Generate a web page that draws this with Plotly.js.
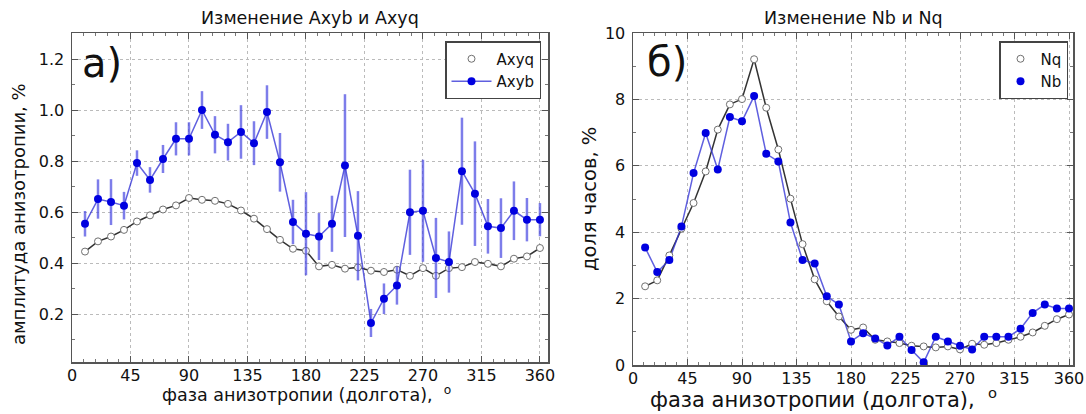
<!DOCTYPE html>
<html>
<head>
<meta charset="utf-8">
<script src="https://cdn.plot.ly/plotly-3.0.1.min.js"></script>
<style>html,body{margin:0;padding:0;background:#fff;}#chart{width:1086px;height:414px;}</style>
</head>
<body>
<div id="chart"></div>
<script>
// Phase of anisotropy (longitude), degrees
const phase = [10,20,30,40,50,60,70,80,90,100,110,120,130,140,150,160,170,180,190,200,210,220,230,240,250,260,270,280,290,300,310,320,330,340,350,360];

// Panel a) amplitude of anisotropy, %
const axyq = [0.445,0.485,0.504,0.530,0.563,0.587,0.610,0.626,0.655,0.648,0.644,0.632,0.606,0.574,0.533,0.491,0.456,0.448,0.387,0.393,0.378,0.383,0.370,0.365,0.374,0.350,0.380,0.350,0.380,0.384,0.404,0.397,0.387,0.417,0.426,0.459];
const axyb = [0.554,0.651,0.639,0.625,0.792,0.726,0.808,0.887,0.887,1.000,0.903,0.874,0.914,0.870,0.992,0.795,0.561,0.515,0.504,0.554,0.782,0.507,0.165,0.260,0.312,0.599,0.605,0.420,0.404,0.760,0.672,0.544,0.537,0.605,0.570,0.570];
const axybErr = [0.050,0.077,0.090,0.054,0.050,0.050,0.055,0.065,0.065,0.074,0.073,0.072,0.105,0.086,0.105,0.115,0.087,0.163,0.092,0.110,0.280,0.175,0.055,0.060,0.075,0.167,0.200,0.157,0.120,0.210,0.205,0.107,0.117,0.115,0.085,0.065];

// Panel б) share of hours, %
const nq = [2.37,2.55,3.30,4.11,4.88,5.83,7.09,7.85,8.01,9.21,7.75,6.49,5.01,3.64,2.58,1.92,1.46,1.06,1.13,0.76,0.71,0.66,0.58,0.56,0.53,0.56,0.47,0.64,0.61,0.66,0.76,0.85,0.98,1.18,1.38,1.52];
const nb = [3.54,2.80,3.16,4.17,5.78,6.99,5.89,7.47,7.34,8.10,6.36,6.13,4.29,3.16,3.06,2.07,1.82,0.71,0.96,0.80,0.59,0.85,0.45,0.08,0.85,0.71,0.58,0.47,0.85,0.85,0.85,1.09,1.57,1.82,1.70,1.70];

// Tick labels
const xTicks = [0,45,90,135,180,225,270,315,360];
const yTicksA = [0.2,0.4,0.6,0.8,1.0,1.2];
const yTicksB = [0,2,4,6,8,10];

const BLUE = '#0000e0';
const BLUE_LINE = 'rgba(55,55,215,0.8)';
const BLUE_ERR = 'rgba(70,70,225,0.7)';
const DARK = '#333333';
const FONT = 'DejaVu Sans, Verdana, sans-serif';

const traces = [
  {x: phase, y: axyq, xaxis:'x', yaxis:'y', mode:'lines', line:{color:DARK, width:1.5}, showlegend:false, hoverinfo:'skip'},
  {x: phase, y: axyq, xaxis:'x', yaxis:'y', mode:'markers', name:'Axyq', legend:'legend',
   marker:{symbol:'circle', size:7, color:'#ffffff', line:{color:'#707070', width:1}}},
  {x: phase, y: axyb, xaxis:'x', yaxis:'y', mode:'lines+markers', name:'Axyb', legend:'legend',
   line:{color:BLUE_LINE, width:1.5},
   marker:{symbol:'circle', size:8, color:BLUE},
   error_y:{type:'data', array:axybErr, visible:true, color:BLUE_ERR, thickness:2.5, width:0}},
  {x: phase, y: nq, xaxis:'x2', yaxis:'y2', mode:'lines', line:{color:DARK, width:1.5}, showlegend:false, hoverinfo:'skip'},
  {x: phase, y: nb, xaxis:'x2', yaxis:'y2', mode:'lines', line:{color:BLUE_LINE, width:1.5}, showlegend:false, hoverinfo:'skip'},
  {x: phase, y: nq, xaxis:'x2', yaxis:'y2', mode:'markers', name:'Nq', legend:'legend2',
   marker:{symbol:'circle', size:7, color:'#ffffff', line:{color:'#707070', width:1}}},
  {x: phase, y: nb, xaxis:'x2', yaxis:'y2', mode:'markers', name:'Nb', legend:'legend2',
   marker:{symbol:'circle', size:8, color:BLUE}}
];

const tickFont = {family:FONT, size:16, color:'#111'};

function xAxis(domain, range, anchor){
  return {
    domain: domain, range: range, anchor: anchor,
    tickmode:'array', tickvals: xTicks, ticktext: xTicks.map(String),
    ticks:'inside', ticklen:6, tickwidth:1, tickcolor:'#555',
    minor:{dtick:9, tick0:0, ticks:'inside', ticklen:3, tickcolor:'#777', showgrid:false},
    showline:true, linecolor:'#555', linewidth:1.5, mirror:'allticks',
    showgrid:true, gridcolor:'#bbbbbb', griddash:'dot', gridwidth:1,
    zeroline:false, tickfont: tickFont, ticklabelstandoff:-2
  };
}
function yAxis(domain, range, anchor, vals, texts, minorDt){
  return {
    domain: domain, range: range, anchor: anchor,
    tickmode:'array', tickvals: vals, ticktext: texts,
    ticks:'inside', ticklen:6, tickwidth:1, tickcolor:'#555',
    minor:{dtick:minorDt, tick0:0, ticks:'inside', ticklen:3, tickcolor:'#777', showgrid:false},
    showline:true, linecolor:'#555', linewidth:1.5, mirror:'allticks',
    showgrid:true, gridcolor:'#bbbbbb', griddash:'dot', gridwidth:1,
    zeroline:false, tickfont: tickFont, ticklabelstandoff:3
  };
}

const W = 1086, H = 414;
const px = v => v / W;
const py = v => 1 - v / H;

function note(text, x, y, size, angle){
  return {text:text, x:px(x), y:py(y), xref:'paper', yref:'paper', showarrow:false,
    xanchor:'center', yanchor:'middle', textangle: angle || 0,
    font:{family:FONT, size:size, color:'#111'}};
}

const layout = {
  width: W, height: H,
  margin:{l:0, r:0, t:0, b:0},
  paper_bgcolor:'#ffffff', plot_bgcolor:'#ffffff',
  showlegend:true,
  xaxis: xAxis([px(72), px(548)], [0, 366.2], 'y'),
  yaxis: yAxis([py(362), py(33)], [0.012, 1.302], 'x', yTicksA, yTicksA.map(v => v.toFixed(1)), 0.1),
  xaxis2: xAxis([px(633), px(1073)], [0, 363.3], 'y2'),
  yaxis2: yAxis([py(365), py(33)], [0, 10], 'x2', yTicksB, yTicksB.map(String), 1),
  legend: {x: px(541), y: py(41), xanchor:'right', yanchor:'top',
    bgcolor:'#ffffff', bordercolor:'#444', borderwidth:1.5,
    font:{family:FONT, size:15, color:'#111'}, itemwidth:40, tracegroupgap:0},
  legend2: {x: px(1068), y: py(41), xanchor:'right', yanchor:'top',
    bgcolor:'#ffffff', bordercolor:'#444', borderwidth:1.5,
    font:{family:FONT, size:15, color:'#111'}, itemwidth:30, tracegroupgap:0},
  annotations: [
    note('Изменение Axyb и Axyq', 310, 18, 17.5),
    note('Изменение Nb и Nq', 853, 18, 17.5),
    note('а)', 102, 63, 40),
    note('б)', 667, 62, 40),
    note('фаза анизотропии (долгота),  <sup>o</sup>', 306, 394, 17.5),
    note('фаза анизотропии (долгота),  <sup>o</sup>', 823, 398, 21),
    note('амплитуда анизотропии, %', 19, 214, 18, -90),
    note('доля часов, %', 589, 199, 19.5, -90)
  ]
};

Plotly.newPlot('chart', traces, layout, {displayModeBar:false, staticPlot:true});
</script>
</body>
</html>
